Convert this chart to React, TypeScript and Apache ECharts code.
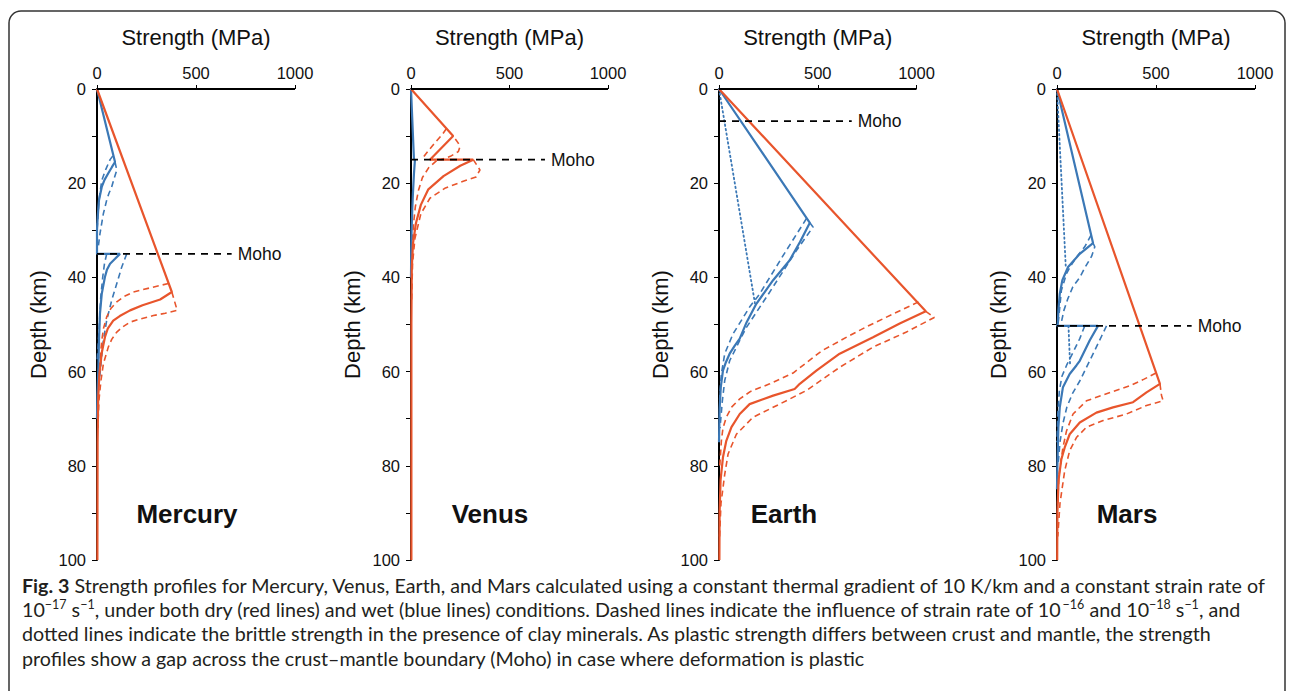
import React, { useEffect, useRef } from "react";
import * as echarts from "echarts";

// ---------- DATA (strength MPa, depth km) ----------
const xTicks = [0, 500, 1000];
const depthTicks = [0, 20, 40, 60, 80, 100];
const planets = ["Mercury", "Venus", "Earth", "Mars"];
const surfaceLine = [[0, 0], [1000, 0]]; // top (strength) axis line, 0–1000 MPa

// Mercury
const mercuryDry = [[0,0],[378,43.1],[319,44.7],[230,45.9],[167,47],[115,48.2],[82,49.2],[55,50.8],[40,52.7],[24,56],[12,60.5],[6,65.5],[3,75],[2,100]];
const mercuryDryFast = [[378,43.1],[405,47],[345,47.6],[285,48.1],[220,48.8],[167,49.5],[130,50.5],[100,51.6],[75,53.1],[57,54.8],[32,58.4],[20,61.9],[10,66],[4,72]];
const mercuryDrySlow = [[361,41.3],[270,42.2],[184,43.1],[135,44.1],[100,45.2],[70,46.6],[49,48.4],[33,50.8],[24,53.4],[15,57.7],[8,62],[3,68]];
const mercuryWet = [[0,0],[91,15.5],[75,16.6],[57,17.9],[38,19.3],[24,20.8],[10,23.6],[3.5,27.2],[0,30],[0,35],[116,35],[90,36.1],[66,37.1],[50,38.4],[40,39.9],[24,43.5],[15,47.7],[10,53.4],[7,59],[2,65],[0,70]];
const mercuryWetFastCrust = [[91,15.5],[100,17.2],[88,18.8],[74,20.8],[60,22.2],[49,23.6],[32,26.5],[15,30.7],[5,34]];
const mercuryWetFastMantle = [[150,35],[125,37.8],[100,41.3],[74,44.9],[49,49.1],[32,53.4],[20,58.3],[5,65]];
const mercuryWetSlowCrust = [[80,14.2],[66,15],[45,17],[24,19.4],[10,23.6],[3.5,27.9],[0,30]];
const mercuryWetSlowMantle = [[49,35],[38,37],[29,39.9],[19,44.2],[12,49.9],[5,55],[0,58]];
const mercuryMoho = [[0,35],[680,35]];

// Venus
const venusDry = [[0,0],[214,10],[96,15],[316,15],[250,16.3],[165,18.5],[88,21.3],[50,24.6],[25,28.5],[10,32.8],[4,38],[2,50],[2,100]];
const venusDryFastCrust = [[225,10.6],[240,11.5],[248,12.3],[240,13.3],[200,14.3],[150,15]];
const venusDryFastMantle = [[316,15],[350,17.2],[330,18.7],[265,19.6],[175,21],[96,23.2],[50,26.5],[20,31.7],[8,37],[3,45]];
const venusDrySlowCrust = [[180,8.4],[160,9.6],[110,12],[75,13.8],[54,15]];
const venusDrySlowMantle = [[130,15.2],[90,16.7],[58,18.8],[38,21.5],[22,25],[12,29],[5,34],[2,40]];
const venusWet = [[0,0],[15,15],[20,15],[15,18],[10,22],[6,26],[3,30],[1,35],[0,40]];
const venusMoho = [[0,15],[680,15]];

// Earth
const earthDry = [[0,0],[1047,47.2],[915,49.8],[780,52.7],[611,56.2],[493,59.8],[409,62.6],[383,63.7],[274,65.1],[155,66.9],[105,69],[63,71.8],[37,74.7],[20,78.2],[8,83],[3,90],[2,100]];
const earthDrySlow = [[1010,45.2],[880,47.8],[760,50.2],[650,52.6],[520,55.6],[375,60.3],[257,62.6],[160,64.2],[105,65.8],[65,67.5],[37,69.7],[20,72],[12,74.7],[4,80]];
const earthDryFast = [[1047,47.2],[1090,48.5],[949,51.6],[780,54.8],[611,59.1],[443,64],[307,66.9],[172,69.7],[88,73.3],[46,77.5],[29,81.8],[10,88],[3,95]];
const earthWet = [[0,0],[460,28.4],[410,32.5],[357,36.4],[274,40.6],[189,45.6],[140,49.5],[105,53],[80,54.5],[54,56.2],[35,58],[20,59.8],[9,63.3],[3,68],[0,75]];
const earthWetFast = [[460,28.4],[476,29.3],[392,34.3],[240,44.2],[139,50.6],[105,53.4],[54,57.7],[29,61.9],[17,66.2],[5,72]];
const earthWetSlow = [[443,27.5],[330,35],[206,43.5],[155,46.3],[71,52],[29,56.2],[12,60.5],[3,66]];
const earthWetClay = [[0,0],[182,45.5]];
const earthMoho = [[0,6.8],[672,6.8]];

// Mars
const marsDry = [[0,0],[520,62.6],[452,64.4],[384,66.5],[283,67.6],[199,68.7],[115,70.8],[64,73.3],[39,76.1],[22,78.6],[8,83],[2,90],[1,100]];
const marsDrySlow = [[500,60.3],[440,61.6],[368,63],[250,64.7],[149,66.2],[81,69],[48,72.6],[30,76.1],[10,82],[3,88]];
const marsDryFast = [[520,62.6],[528,65.1],[536,66.2],[452,67.2],[351,69],[233,70.4],[149,71.8],[98,74],[64,76.8],[39,81],[15,88],[4,95]];
const marsWet = [[0,0],[182,32.7],[174,33],[115,35],[56,37.8],[27,40.6],[14,43.5],[7,47],[4,49.9],[0,50.3],[207,50.3],[165,53.4],[115,57.7],[98,58.7],[64,60.5],[30,63.3],[14,67.6],[7,71.8],[2,80],[0,85]];
const marsWetFastCrust = [[182,32.7],[191,33.5],[175,35.5],[140,38],[115,40],[80,42],[55,44.5],[35,47],[22,49.5]];
const marsWetFastMantle = [[250,50.3],[225,52.5],[185,56],[150,59],[115,62],[80,64.5],[50,67.5],[30,71],[15,75],[5,80]];
const marsWetSlowCrust = [[172,31],[140,33.5],[98,35.7],[70,37.5],[48,39.2],[22,42.8],[14,46.3],[5,50]];
const marsWetSlowMantle = [[140,50.3],[115,53],[80,56],[50,58.5],[25,61],[12,64],[4,69],[0,75]];
const marsWetClayCrust = [[0,0],[44,37.5]];
const marsWetClayMantle = [[58,50.3],[66,58.5]];
const marsMoho = [[0,50.3],[680,50.3]];

const captionLines = [
  "{b|Fig. 3}{n| Strength profiles for Mercury, Venus, Earth, and Mars calculated using a constant thermal gradient of 10 K/km and a constant strain rate of}",
  "{n|10}{s|−17}{n| s}{s|−1}{n|, under both dry (red lines) and wet (blue lines) conditions. Dashed lines indicate the influence of strain rate of 10}{s|−16}{n| and 10}{s|−18}{n| s}{s|−1}{n|, and}",
  "{n|dotted lines indicate the brittle strength in the presence of clay minerals. As plastic strength differs between crust and mantle, the strength}",
  "{n|profiles show a gap across the crust–mantle boundary (Moho) in case where deformation is plastic}",
];

// ---------- STYLE ----------
const RED = "#E8552C";
const BLUE = "#3B78B6";
const FONT = "Liberation Sans";
const CAP_FONT = "Lato";

const X_MAX = 1100; // extra room so profiles above 1000 MPa (Earth) are drawn
const layout = [
  { left: 97, width: 198, labelX: 187 },
  { left: 411, width: 197, labelX: 490 },
  { left: 719, width: 197.5, labelX: 784 },
  { left: 1057, width: 198, labelX: 1127 },
];
const GRID_TOP = 89;
const GRID_H = 471;

function ln(idx: number, data: number[][], color: string, kind: "solid" | "dashed" | "dotted") {
  const lineType = kind === "solid" ? "solid" : kind === "dashed" ? [6, 4] : [1.5, 3];
  const width = kind === "solid" ? 2.2 : kind === "dashed" ? 1.6 : 1.8;
  return {
    type: "line",
    xAxisIndex: idx,
    yAxisIndex: idx,
    data,
    symbol: "none",
    clip: false,
    silent: true,
    lineStyle: { color, width, type: lineType, cap: kind === "dotted" ? "round" : "butt" },
    z: kind === "solid" ? 3 : 2,
  };
}

function moho(idx: number, data: number[][]) {
  return {
    type: "line",
    xAxisIndex: idx,
    yAxisIndex: idx,
    data,
    symbol: "none",
    clip: false,
    silent: true,
    z: 4,
    lineStyle: { color: "#000", width: 1.8, type: [7, 6] },
    endLabel: {
      show: true,
      formatter: "Moho",
      color: "#111",
      fontSize: 17.5,
      fontFamily: FONT,
      distance: 6,
    },
  };
}

export default function App() {
  const ref = useRef<HTMLDivElement>(null);
  useEffect(() => {
    if (!ref.current) return;
    const chart = echarts.init(ref.current, null, { renderer: "svg" });

    const grids = layout.map((l) => ({
      left: l.left,
      top: GRID_TOP,
      width: (l.width * X_MAX) / xTicks[xTicks.length - 1],
      height: GRID_H,
      containLabel: false,
    }));
    const xAxes = layout.map((l, i) => ({
      type: "value",
      gridIndex: i,
      position: "top",
      min: 0,
      max: X_MAX,
      interval: 500,
      name: "Strength (MPa)",
      nameLocation: "start",
      nameGap: 0,
      nameTextStyle: {
        fontSize: 22,
        fontFamily: FONT,
        color: "#111",
        align: "center",
        verticalAlign: "middle",
        padding: [0, 0, 0, 0],
      },
      axisLine: { show: false },
      axisTick: { show: true, length: 4, customValues: xTicks, lineStyle: { color: "#000", width: 1 } },
      axisLabel: {
        fontSize: 16.5,
        fontFamily: FONT,
        color: "#111",
        margin: 8,
        customValues: xTicks,
        formatter: (v: number) => String(v),
      },
      splitLine: { show: false },
    }));
    const yAxes = layout.map((_, i) => ({
      type: "value",
      gridIndex: i,
      inverse: true,
      min: depthTicks[0],
      max: depthTicks[depthTicks.length - 1],
      interval: 10,
      name: "Depth (km)",
      nameLocation: "middle",
      nameGap: 48,
      nameRotate: 90,
      nameTextStyle: { fontSize: 22, fontFamily: FONT, color: "#111" },
      axisLine: { show: true, onZero: false, lineStyle: { color: "#000", width: 2 } },
      axisTick: { show: true, length: 5, lineStyle: { color: "#000", width: 1 } },
      axisLabel: {
        fontSize: 16.5,
        fontFamily: FONT,
        color: "#111",
        margin: 11,
        formatter: (v: number) => (depthTicks.includes(v) ? String(v) : ""),
      },
      splitLine: { show: false },
    }));

    const axisLines = layout.map((_, i) => ({
      type: "line",
      xAxisIndex: i,
      yAxisIndex: i,
      data: surfaceLine,
      symbol: "none",
      silent: true,
      clip: false,
      z: 5,
      lineStyle: { color: "#000", width: 2, type: "solid" },
    }));

    const series: any[] = [
      ...axisLines,
      // Mercury
      ln(0, mercuryWetSlowCrust, BLUE, "dashed"),
      ln(0, mercuryWetSlowMantle, BLUE, "dashed"),
      ln(0, mercuryWetFastCrust, BLUE, "dashed"),
      ln(0, mercuryWetFastMantle, BLUE, "dashed"),
      ln(0, mercuryWet, BLUE, "solid"),
      ln(0, mercuryDrySlow, RED, "dashed"),
      ln(0, mercuryDryFast, RED, "dashed"),
      ln(0, mercuryDry, RED, "solid"),
      moho(0, mercuryMoho),
      // Venus
      ln(1, venusWet, BLUE, "solid"),
      ln(1, venusDrySlowCrust, RED, "dashed"),
      ln(1, venusDrySlowMantle, RED, "dashed"),
      ln(1, venusDryFastCrust, RED, "dashed"),
      ln(1, venusDryFastMantle, RED, "dashed"),
      ln(1, venusDry, RED, "solid"),
      moho(1, venusMoho),
      // Earth
      ln(2, earthWetClay, BLUE, "dotted"),
      ln(2, earthWetSlow, BLUE, "dashed"),
      ln(2, earthWetFast, BLUE, "dashed"),
      ln(2, earthWet, BLUE, "solid"),
      ln(2, earthDrySlow, RED, "dashed"),
      ln(2, earthDryFast, RED, "dashed"),
      ln(2, earthDry, RED, "solid"),
      moho(2, earthMoho),
      // Mars
      ln(3, marsWetClayCrust, BLUE, "dotted"),
      ln(3, marsWetClayMantle, BLUE, "dotted"),
      ln(3, marsWetSlowCrust, BLUE, "dashed"),
      ln(3, marsWetSlowMantle, BLUE, "dashed"),
      ln(3, marsWetFastCrust, BLUE, "dashed"),
      ln(3, marsWetFastMantle, BLUE, "dashed"),
      ln(3, marsWet, BLUE, "solid"),
      ln(3, marsDrySlow, RED, "dashed"),
      ln(3, marsDryFast, RED, "dashed"),
      ln(3, marsDry, RED, "solid"),
      moho(3, marsMoho),
    ];

    const capY = [585, 609, 633.5, 658];
    const graphic: any[] = [
      {
        type: "rect",
        shape: { x: 9, y: 11, width: 1276, height: 700, r: 12 },
        style: { fill: "none", stroke: "#333", lineWidth: 1.5 },
        silent: true,
      },
      ...planets.map((p, i) => ({
        type: "text",
        x: layout[i].labelX,
        y: 514,
        style: {
          text: p,
          fontSize: 26,
          fontWeight: "bold",
          fontFamily: FONT,
          fill: "#111",
          align: "center",
          verticalAlign: "middle",
        },
        silent: true,
      })),
      ...planets.map((_, i) => ({
        type: "text",
        x: layout[i].left + layout[i].width / 2,
        y: 37,
        style: {
          text: "Strength (MPa)",
          fontSize: 22,
          fontFamily: FONT,
          fill: "#111",
          align: "center",
          verticalAlign: "middle",
        },
        silent: true,
      })),
      ...captionLines.map((t, i) => ({
        type: "text",
        x: 22,
        y: capY[i],
        style: {
          text: t,
          align: "left",
          verticalAlign: "middle",
          fill: "#231f20",
          rich: {
            n: { fontSize: 19.7, fontFamily: CAP_FONT, fill: "#231f20", lineHeight: 23 },
            b: { fontSize: 19.7, fontFamily: CAP_FONT, fontWeight: "bold", fill: "#231f20", lineHeight: 23 },
            s: { fontSize: 12.5, fontFamily: CAP_FONT, fill: "#231f20", lineHeight: 23, verticalAlign: "top" },
          },
        },
        silent: true,
      })),
    ];

    // x-axis titles are drawn as graphic texts centred over the 0–1000 span
    xAxes.forEach((a: any) => {
      a.name = "";
    });

    chart.setOption({
      animation: false,
      backgroundColor: "#fff",
      grid: grids,
      xAxis: xAxes,
      yAxis: yAxes,
      series,
      graphic,
    });
    return () => chart.dispose();
  }, []);

  return <div ref={ref} style={{ position: "absolute", left: 0, top: 0, width: 1293, height: 691 }} />;
}
